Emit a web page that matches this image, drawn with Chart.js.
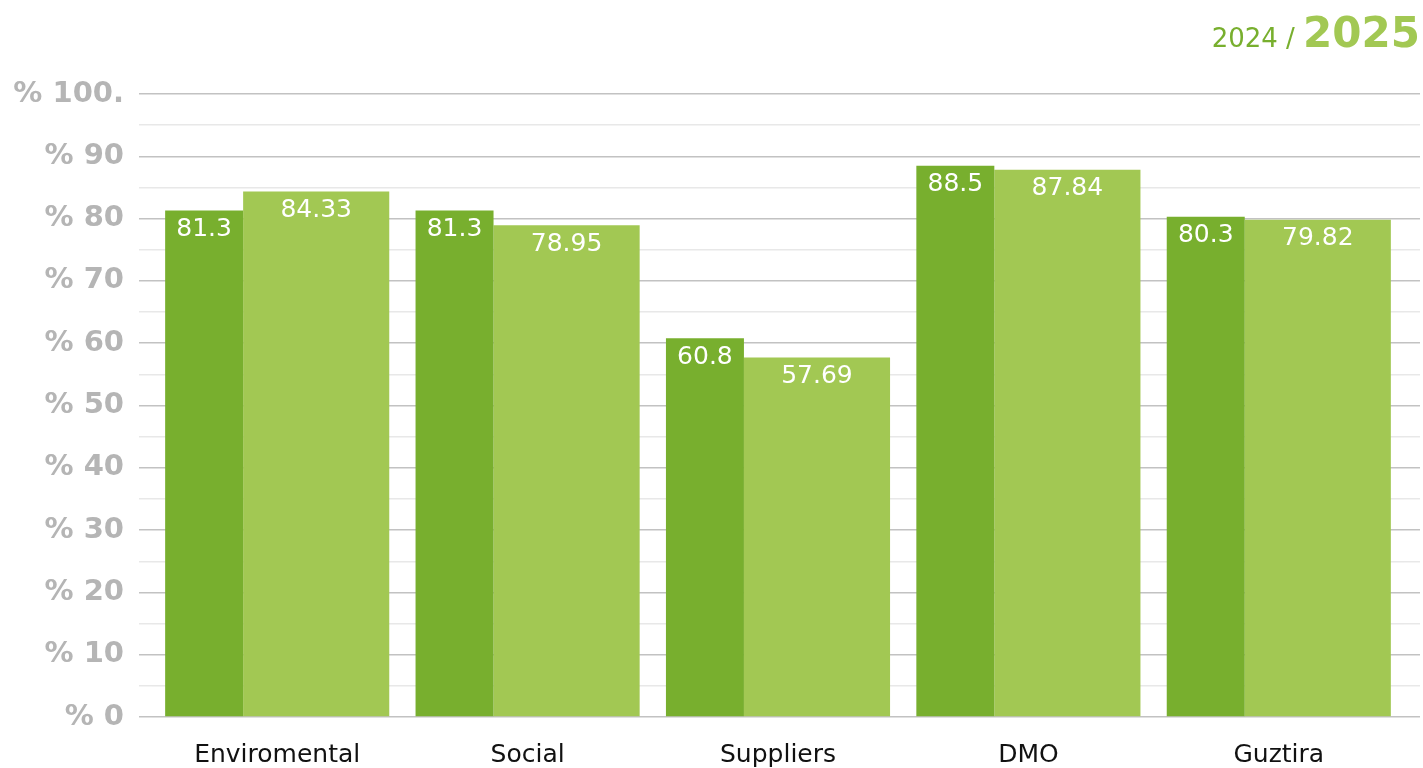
<!DOCTYPE html>
<html>
<head>
<meta charset="utf-8">
<script src="https://cdn.jsdelivr.net/npm/chart.js@4/dist/chart.umd.min.js"></script>
<style>
  body { margin: 0; background: #fff; }
  #wrap { position: relative; width: 1423px; height: 768px; overflow: hidden; }
  #years {
    position: absolute; right: 3px; top: 12px;
    font-family: "DejaVu Sans", sans-serif; line-height: 42px; white-space: nowrap;
  }
  #years .old { font-size: 26px; color: #78af2e; }
  #years .new { font-size: 42px; font-weight: bold; color: #a2c853; }
</style>
</head>
<body>
<div id="wrap">
  <canvas id="chart"></canvas>
  <div id="years"><span class="old">2024 / </span><span class="new">2025</span></div>
</div>
<script>
// Data
const categories = ["Enviromental", "Social", "Suppliers", "DMO", "Guztira"];
const values2024 = [81.3, 81.3, 60.8, 88.5, 80.3];
const values2025 = [84.33, 78.95, 57.69, 87.84, 79.82];
const yTickLabels = ["% 0", "% 10", "% 20", "% 30", "% 40", "% 50", "% 60", "% 70", "% 80", "% 90", "% 100."];

const DARK = "#78af2e";
const LIGHT = "#a2c853";
const FONT = "'DejaVu Sans', sans-serif";

// 2024 bar is narrow, 2025 bar is wide, both touching inside the group
const splitBars = {
  id: "splitBars",
  afterDatasetsUpdate(chart) {
    const xs = chart.scales.x;
    const catW = xs.width / categories.length;
    const groupW = catW * 0.895;
    const darkW = groupW * 0.348;
    const lightW = groupW - darkW;
    const dark = chart.getDatasetMeta(0).data;
    const light = chart.getDatasetMeta(1).data;
    categories.forEach((c, i) => {
      const left = xs.getPixelForValue(i) - groupW / 2;
      dark[i].x = left + darkW / 2;
      dark[i].width = darkW;
      light[i].x = left + darkW + lightW / 2;
      light[i].width = lightW;
    });
  },
};

// white value labels near the top of each bar
const valueLabels = {
  id: "valueLabels",
  afterDatasetsDraw(chart) {
    const ctx = chart.ctx;
    ctx.save();
    ctx.fillStyle = "#fff";
    ctx.font = "25px " + FONT;
    ctx.textAlign = "center";
    ctx.textBaseline = "middle";
    chart.data.datasets.forEach((ds, d) => {
      chart.getDatasetMeta(d).data.forEach((bar, i) => {
        ctx.fillText(String(ds.data[i]), bar.x, bar.y + 19);
      });
    });
    ctx.restore();
  },
};

const gridColor = (ctx) => (ctx.tick && ctx.tick.value % 10 === 0 ? "#c2c2c2" : "#e8e8e8");

new Chart(document.getElementById("chart"), {
  type: "bar",
  data: {
    labels: categories,
    datasets: [
      { label: "2024", data: values2024, backgroundColor: DARK, barPercentage: 1, categoryPercentage: 0.895 },
      { label: "2025", data: values2025, backgroundColor: LIGHT, barPercentage: 1, categoryPercentage: 0.895 },
    ],
  },
  options: {
    responsive: true,
    maintainAspectRatio: false,
    animation: false,
    events: [],
    layout: { padding: { top: 94, left: 0, right: 0, bottom: 0 } },
    plugins: { legend: { display: false }, tooltip: { enabled: false } },
    scales: {
      x: {
        grid: { display: false, drawTicks: false },
        border: { display: false },
        ticks: {
          color: "#111",
          font: { family: FONT, size: 25 },
          padding: 23,
          maxRotation: 0,
          autoSkip: false,
        },
        afterFit: (s) => { s.height = 51; },
      },
      y: {
        min: 0,
        max: 100,
        border: { display: false },
        grid: { color: gridColor, lineWidth: 1.5, tickLength: 13 },
        ticks: {
          stepSize: 5,
          autoSkip: false,
          padding: 15,
          color: "#b5b5b5",
          font: { family: FONT, size: 29, weight: "bold" },
          callback: (v) => (v % 10 === 0 ? yTickLabels[v / 10] : ""),
        },
        afterFit: (s) => { s.width = 152; },
      },
      yr: {
        position: "right",
        min: 0,
        max: 100,
        border: { display: false },
        grid: { color: gridColor, lineWidth: 1.5, tickLength: 16, drawOnChartArea: false },
        ticks: { stepSize: 5, autoSkip: false, display: false },
        afterFit: (s) => { s.width = 19; },
      },
    },
  },
  plugins: [splitBars, valueLabels],
});
</script>
</body>
</html>
